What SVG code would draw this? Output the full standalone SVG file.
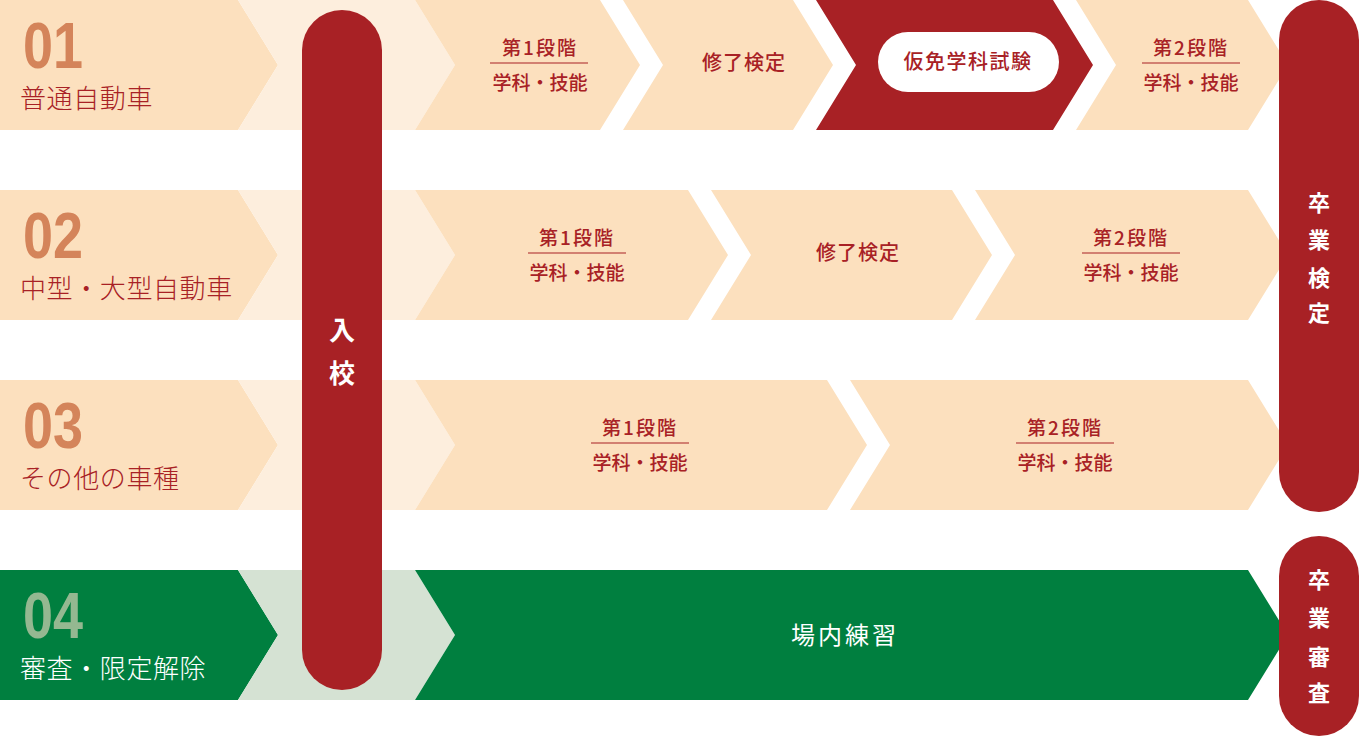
<svg xmlns="http://www.w3.org/2000/svg" width="1359" height="736" viewBox="0 0 1359 736">
<style>
.peach{fill:#fce0be}
.light{fill:#fdeedd}
.red{fill:#a82125}
.green{fill:#007f3f}
.lgreen{fill:#d5e2d3}
.num{font-family:"Liberation Sans",sans-serif;font-weight:700;font-size:64px;fill:#d4845a}
.num4{fill:#94b891}
.lab{font-family:"Noto Sans CJK JP",sans-serif;font-weight:300;font-size:26px;fill:#a82125;letter-spacing:0.6px}
.labw{fill:#ffffff}
.step{font-family:"Noto Sans CJK JP",sans-serif;font-weight:500;font-size:19px;fill:#a82125;text-anchor:middle}
.big{font-size:20px;letter-spacing:1px}
.jonai{font-family:"Noto Sans CJK JP",sans-serif;font-weight:400;font-size:24px;letter-spacing:3px;fill:#ffffff;text-anchor:middle}
.wv{font-family:"Noto Sans CJK JP",sans-serif;font-weight:700;font-size:22px;fill:#ffffff;text-anchor:middle}
.wv26{font-size:26px}
.rule{stroke:#a82125;stroke-width:1}
</style>
<rect width="1359" height="736" fill="#ffffff"/>

<g id="row1">
  <polygon class="peach" points="0,0 238,0 278,65 238,130 0,130"/>
  <polygon class="light" points="238,0 415,0 455,65 415,130 238,130 278,65"/>
  <text class="num" x="23" y="68" textLength="60" lengthAdjust="spacingAndGlyphs">01</text>
  <text class="lab" x="20" y="108">普通自動車</text>
</g>
<g id="r1-step1">
  <polygon class="peach" points="415,0 600,0 640,65 600,130 415,130 455,65"/>
  <text class="step" x="540" y="55" letter-spacing="2">第1段階</text>
  <line class="rule" x1="490" y1="63" x2="588" y2="63"/>
  <text class="step" x="540" y="90">学科・技能</text>
</g>
<g id="r1-shuryo">
  <polygon class="peach" points="623,0 793,0 833,65 793,130 623,130 663,65"/>
  <text class="step big" x="744" y="70">修了検定</text>
</g>
<g id="r1-karimen">
  <polygon class="red" points="816,0 1053,0 1093,65 1053,130 816,130 856,65"/>
  <rect x="878" y="32" width="181" height="60" rx="30" fill="#ffffff"/>
  <text class="step big" x="968" y="69" style="letter-spacing:1.5px">仮免学科試験</text>
</g>
<g id="r1-step2">
  <polygon class="peach" points="1076,0 1248,0 1288,65 1248,130 1076,130 1116,65"/>
  <text class="step" x="1191" y="55" letter-spacing="2">第2段階</text>
  <line class="rule" x1="1142" y1="63" x2="1240" y2="63"/>
  <text class="step" x="1191" y="90">学科・技能</text>
</g>

<g id="row2">
  <polygon class="peach" points="0,190 238,190 278,255 238,320 0,320"/>
  <polygon class="light" points="238,190 415,190 455,255 415,320 238,320 278,255"/>
  <text class="num" x="23" y="258" textLength="60" lengthAdjust="spacingAndGlyphs">02</text>
  <text class="lab" x="20" y="298">中型・大型自動車</text>
</g>
<g id="r2-step1">
  <polygon class="peach" points="415,190 688,190 728,255 688,320 415,320 455,255"/>
  <text class="step" x="577" y="245" letter-spacing="2">第1段階</text>
  <line class="rule" x1="528" y1="253" x2="626" y2="253"/>
  <text class="step" x="577" y="280">学科・技能</text>
</g>
<g id="r2-shuryo">
  <polygon class="peach" points="711,190 952,190 992,255 952,320 711,320 751,255"/>
  <text class="step big" x="858" y="260">修了検定</text>
</g>
<g id="r2-step2">
  <polygon class="peach" points="975,190 1248,190 1288,255 1248,320 975,320 1015,255"/>
  <text class="step" x="1131" y="245" letter-spacing="2">第2段階</text>
  <line class="rule" x1="1082" y1="253" x2="1180" y2="253"/>
  <text class="step" x="1131" y="280">学科・技能</text>
</g>

<g id="row3">
  <polygon class="peach" points="0,380 238,380 278,445 238,510 0,510"/>
  <polygon class="light" points="238,380 415,380 455,445 415,510 238,510 278,445"/>
  <text class="num" x="23" y="448" textLength="60" lengthAdjust="spacingAndGlyphs">03</text>
  <text class="lab" x="20" y="488">その他の車種</text>
</g>
<g id="r3-step1">
  <polygon class="peach" points="415,380 827,380 867,445 827,510 415,510 455,445"/>
  <text class="step" x="640" y="435" letter-spacing="2">第1段階</text>
  <line class="rule" x1="591" y1="443" x2="689" y2="443"/>
  <text class="step" x="640" y="470">学科・技能</text>
</g>
<g id="r3-step2">
  <polygon class="peach" points="850,380 1248,380 1288,445 1248,510 850,510 890,445"/>
  <text class="step" x="1065" y="435" letter-spacing="2">第2段階</text>
  <line class="rule" x1="1016" y1="443" x2="1114" y2="443"/>
  <text class="step" x="1065" y="470">学科・技能</text>
</g>

<g id="row4">
  <polygon class="green" points="0,570 238,570 278,635 238,700 0,700"/>
  <polygon class="lgreen" points="238,570 415,570 455,635 415,700 238,700 278,635"/>
  <text class="num num4" x="23" y="638" textLength="60" lengthAdjust="spacingAndGlyphs">04</text>
  <text class="lab labw" x="20" y="678">審査・限定解除</text>
</g>
<g id="r4-jonai">
  <polygon class="green" points="415,570 1248,570 1288,635 1248,700 415,700 455,635"/>
  <text class="jonai" x="845" y="644">場内練習</text>
</g>

<g id="nyuko">
  <rect class="red" x="302" y="10" width="80" height="680" rx="40"/>
  <text class="wv wv26" x="342" y="340">入</text>
  <text class="wv wv26" x="342" y="383">校</text>
</g>
<g id="sotsugyo-kentei">
  <rect class="red" x="1279" y="0" width="80" height="512" rx="40"/>
  <text class="wv" x="1319" y="211">卒</text>
  <text class="wv" x="1319" y="248">業</text>
  <text class="wv" x="1319" y="286">検</text>
  <text class="wv" x="1319" y="321">定</text>
</g>
<g id="sotsugyo-shinsa">
  <rect class="red" x="1279" y="536" width="80" height="200" rx="40"/>
  <text class="wv" x="1319" y="588">卒</text>
  <text class="wv" x="1319" y="626">業</text>
  <text class="wv" x="1319" y="665">審</text>
  <text class="wv" x="1319" y="701">査</text>
</g>
<g id="connectors"></g>
</svg>
